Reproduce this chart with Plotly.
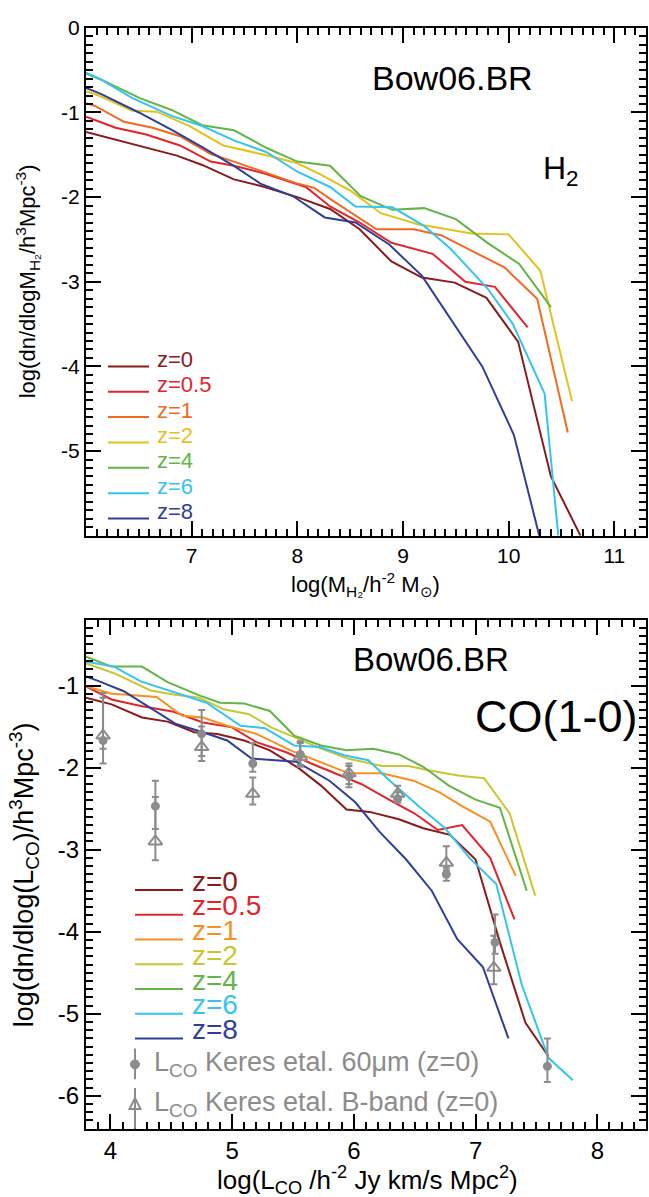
import plotly.graph_objects as go

FONT = "Liberation Sans, Arial, Helvetica, sans-serif"
W, H = 649, 1197

# ---------------- H2 mass function (top panel) ----------------
h2_z0_x = [6.0, 6.36, 6.59, 6.86, 7.10, 7.40, 7.69, 8.0, 8.31, 8.59, 8.89, 9.18, 9.49, 9.79, 10.09, 10.40, 10.68]
h2_z0_y = [-1.23, -1.35, -1.42, -1.51, -1.62, -1.79, -1.88, -2.0, -2.14, -2.38, -2.76, -2.95, -3.01, -3.19, -3.71, -5.30, -6.0]
h2_z05_x = [6.0, 6.28, 6.57, 6.89, 7.18, 7.40, 7.69, 8.08, 8.31, 8.59, 8.89, 9.28, 9.59, 9.87, 10.18]
h2_z05_y = [-1.05, -1.18, -1.26, -1.39, -1.58, -1.63, -1.72, -1.88, -2.11, -2.30, -2.54, -2.67, -3.00, -3.06, -3.54]
h2_z1_x = [6.0, 6.08, 6.36, 6.63, 6.89, 7.18, 7.40, 7.69, 8.0, 8.16, 8.32, 8.75, 9.10, 9.36, 9.96, 10.27, 10.56]
h2_z1_y = [-0.89, -0.92, -1.11, -1.18, -1.28, -1.49, -1.58, -1.71, -1.84, -1.89, -2.03, -2.38, -2.38, -2.45, -2.83, -3.20, -4.78]
h2_z2_x = [6.0, 6.12, 6.44, 6.67, 6.98, 7.30, 7.69, 8.0, 8.2, 8.51, 8.79, 9.14, 9.65, 10.0, 10.30, 10.60]
h2_z2_y = [-0.75, -0.80, -0.98, -0.99, -1.16, -1.39, -1.50, -1.60, -1.72, -1.93, -2.19, -2.32, -2.43, -2.44, -2.87, -4.41]
h2_z4_x = [6.0, 6.14, 6.51, 6.81, 7.10, 7.40, 7.71, 8.0, 8.31, 8.60, 8.90, 9.20, 9.50, 9.80, 10.10, 10.40]
h2_z4_y = [-0.54, -0.61, -0.83, -0.97, -1.15, -1.21, -1.42, -1.58, -1.63, -1.99, -2.15, -2.13, -2.26, -2.54, -2.79, -3.30]
h2_z6_x = [6.0, 6.14, 6.44, 6.81, 7.10, 7.40, 7.71, 8.0, 8.31, 8.55, 8.90, 9.20, 9.45, 9.80, 10.04, 10.34, 10.47]
h2_z6_y = [-0.53, -0.61, -0.83, -1.04, -1.16, -1.33, -1.47, -1.70, -1.88, -2.11, -2.12, -2.34, -2.61, -3.08, -3.50, -4.32, -6.0]
h2_z8_x = [6.0, 6.14, 6.50, 6.82, 7.10, 7.40, 7.65, 7.96, 8.26, 8.55, 8.87, 9.18, 9.75, 10.05, 10.29]
h2_z8_y = [-0.71, -0.78, -1.00, -1.21, -1.41, -1.63, -1.84, -1.99, -2.24, -2.30, -2.56, -2.93, -4.00, -4.81, -6.0]

# ---------------- CO(1-0) luminosity function (bottom panel) ----------------
co_z0_x = [3.80, 4.01, 4.26, 4.47, 4.69, 4.88, 5.10, 5.31, 5.55, 5.73, 5.94, 6.13, 6.37, 6.57, 6.79, 7.00, 7.20, 7.41, 7.60]
co_z0_y = [-1.15, -1.23, -1.39, -1.44, -1.57, -1.59, -1.67, -1.79, -2.01, -2.22, -2.51, -2.54, -2.63, -2.74, -2.82, -3.12, -4.13, -5.11, -5.52]
co_z05_x = [3.80, 4.01, 4.25, 4.52, 4.76, 5.0, 5.2, 5.44, 5.65, 5.85, 6.06, 6.30, 6.50, 6.69, 6.89, 7.12, 7.32]
co_z05_y = [-1.01, -1.17, -1.25, -1.32, -1.45, -1.51, -1.69, -1.81, -1.95, -2.07, -2.20, -2.40, -2.56, -2.76, -2.70, -3.10, -3.85]
co_z1_x = [3.80, 4.01, 4.11, 4.38, 4.59, 4.76, 4.96, 5.20, 5.48, 5.75, 5.96, 6.23, 6.49, 6.70, 6.90, 7.12, 7.33]
co_z1_y = [-1.01, -1.10, -1.11, -1.14, -1.37, -1.39, -1.49, -1.59, -1.79, -1.95, -2.07, -2.07, -2.16, -2.30, -2.48, -2.66, -3.32]
co_z2_x = [3.80, 4.03, 4.33, 4.52, 4.73, 4.93, 5.14, 5.32, 5.51, 5.73, 5.95, 6.23, 6.45, 6.60, 6.87, 7.07, 7.28, 7.49]
co_z2_y = [-0.73, -0.85, -1.06, -1.11, -1.15, -1.29, -1.35, -1.51, -1.63, -1.77, -1.89, -1.98, -1.98, -2.03, -2.10, -2.13, -2.56, -3.56]
co_z4_x = [3.80, 4.01, 4.26, 4.47, 4.73, 4.90, 5.10, 5.31, 5.51, 5.73, 5.94, 6.16, 6.37, 6.57, 6.78, 7.00, 7.20, 7.42]
co_z4_y = [-0.65, -0.77, -0.77, -0.96, -1.12, -1.21, -1.22, -1.31, -1.61, -1.73, -1.79, -1.77, -1.84, -1.99, -2.22, -2.39, -2.49, -3.50]
co_z6_x = [3.80, 4.03, 4.25, 4.52, 4.79, 5.07, 5.27, 5.51, 5.72, 5.92, 6.12, 6.28, 6.54, 6.75, 6.95, 7.17, 7.38, 7.60, 7.80]
co_z6_y = [-0.71, -0.77, -0.95, -1.08, -1.21, -1.49, -1.52, -1.73, -1.75, -1.85, -1.91, -2.14, -2.48, -2.74, -3.10, -3.42, -4.65, -5.54, -5.81]
co_z8_x = [3.80, 3.91, 4.11, 4.33, 4.54, 4.76, 4.96, 5.16, 5.53, 5.80, 6.01, 6.21, 6.43, 6.64, 6.85, 7.06, 7.27]
co_z8_y = [-0.89, -0.95, -1.07, -1.27, -1.47, -1.57, -1.67, -1.89, -1.93, -2.16, -2.42, -2.78, -3.12, -3.50, -4.09, -4.43, -5.30]

# Keres et al. (2003) CO luminosity function estimates, z=0
keres60_x = [3.94, 4.37, 4.75, 5.17, 5.56, 5.96, 6.36, 6.76, 7.16, 7.59]
keres60_y = [-1.67, -2.47, -1.59, -1.95, -1.84, -2.11, -2.38, -3.30, -4.13, -5.64]
keres60_hi = [-1.15, -2.16, -1.30, -1.70, -1.70, -1.98, -2.30, -3.22, -3.79, -5.30]
keres60_lo = [-1.95, -2.75, -1.86, -2.05, -1.99, -2.24, -2.43, -3.38, -4.27, -5.83]
keresB_x = [3.94, 4.37, 4.75, 5.17, 5.56, 5.96, 6.36, 6.76, 7.15]
keresB_y = [-1.61, -2.90, -1.75, -2.32, -1.87, -2.07, -2.32, -3.16, -4.44]
keresB_hi = [-1.09, -2.36, -1.50, -2.12, -1.68, -1.95, -2.22, -2.96, -4.05]
keresB_lo = [-1.77, -3.13, -1.92, -2.45, -1.97, -2.20, -2.40, -3.25, -4.64]

z_labels = ["z=0", "z=0.5", "z=1", "z=2", "z=4", "z=6", "z=8"]
top_colors = ["#8b1a1a", "#e3242b", "#f26a21", "#e5c11d", "#62b546", "#35c4f0", "#2e3f98"]
bot_colors = ["#8b1a1a", "#e3242b", "#f7901e", "#c9c62f", "#62b546", "#35c4f0", "#2e3f98"]
GRAY = "#8c8c8c"

top_series = [(h2_z0_x, h2_z0_y), (h2_z05_x, h2_z05_y), (h2_z1_x, h2_z1_y), (h2_z2_x, h2_z2_y),
              (h2_z4_x, h2_z4_y), (h2_z6_x, h2_z6_y), (h2_z8_x, h2_z8_y)]
bot_series = [(co_z0_x, co_z0_y), (co_z05_x, co_z05_y), (co_z1_x, co_z1_y), (co_z2_x, co_z2_y),
              (co_z4_x, co_z4_y), (co_z6_x, co_z6_y), (co_z8_x, co_z8_y)]

fig = go.Figure()

for (xs, ys), col, lab in zip(top_series, top_colors, z_labels):
    fig.add_trace(go.Scatter(x=xs, y=ys, mode="lines", line=dict(color=col, width=2),
                             name=lab, xaxis="x", yaxis="y", showlegend=False))

for (xs, ys), col, lab in zip(bot_series, bot_colors, z_labels):
    fig.add_trace(go.Scatter(x=xs, y=ys, mode="lines", line=dict(color=col, width=2),
                             name=lab, xaxis="x2", yaxis="y2", showlegend=False))


def err(y, hi, lo):
    return dict(type="data", symmetric=False,
                array=[h - v for v, h in zip(y, hi)],
                arrayminus=[v - l for v, l in zip(y, lo)],
                color=GRAY, thickness=2, width=3.5)


fig.add_trace(go.Scatter(x=keresB_x, y=keresB_y, mode="markers", xaxis="x2", yaxis="y2",
                         marker=dict(symbol="triangle-up-open", size=12, color=GRAY, line=dict(width=2, color=GRAY)),
                         error_y=err(keresB_y, keresB_hi, keresB_lo), showlegend=False))
fig.add_trace(go.Scatter(x=keres60_x, y=keres60_y, mode="markers", xaxis="x2", yaxis="y2",
                         marker=dict(symbol="circle", size=9, color=GRAY),
                         error_y=err(keres60_y, keres60_hi, keres60_lo), showlegend=False))


def px(xp):
    return xp / W


def py(yp):
    return 1 - yp / H


def axis(domain, rng, anchor, tickvals, size):
    return dict(domain=domain, range=rng, anchor=anchor, showline=True, linecolor="black", linewidth=2,
                mirror="allticks", ticks="inside", ticklen=15, tickwidth=1.5, tickcolor="black",
                tickvals=tickvals, ticktext=[("%g" % v) for v in tickvals],
                tickfont=dict(family=FONT, size=size, color="black"),
                showgrid=False, zeroline=False,
                minor=dict(ticks="inside", ticklen=7, tickwidth=1.5, tickcolor="black", dtick=0.1,
                           tick0=0, showgrid=False))


xdom = [px(86), px(646)]
layout = dict(
    width=W, height=H, margin=dict(l=0, r=0, t=0, b=0),
    paper_bgcolor="white", plot_bgcolor="white", showlegend=False,
    xaxis=axis(xdom, [6, 11.3], "y", [7, 8, 9, 10, 11], 21),
    yaxis=axis([py(529), py(16)], [-6, 0], "x", [-5, -4, -3, -2, -1, 0], 21),
    xaxis2=axis(xdom, [3.8, 8.4], "y2", [4, 5, 6, 7, 8], 24),
    yaxis2=axis([py(1128), py(614)], [-6.4, -0.2], "x2", [-6, -5, -4, -3, -2, -1], 24),
)
fig.update_layout(**layout)

ann = []
shapes = []


def text(x, y, s, size, color="black", xanchor="center", yanchor="middle", angle=0):
    ann.append(dict(x=px(x), y=py(y), xref="paper", yref="paper", text=s, showarrow=False,
                    font=dict(family=FONT, size=size, color=color), xanchor=xanchor, yanchor=yanchor,
                    textangle=angle))


# panel labels
text(452, 67, "Bow06.BR", 34)
text(541, 160, "H<sub>2</sub>", 32, xanchor="left")
text(431, 654, "Bow06.BR", 33)
text(556, 712, "CO(1-0)", 45)

# axis titles
text(366, 578, "log(M<sub>H₂</sub>/h<sup>-2</sup> M<sub>⊙</sub>)", 22)
text(27, 272, "log(dn/dlogM<sub>H₂</sub>/h<sup>3</sup>Mpc<sup>-3</sup>)", 22, angle=-90)
text(367, 1180, "log(L<sub>CO</sub> /h<sup>-2</sup> Jy km/s Mpc<sup>2</sup>)", 26)
text(24, 872, "log(dn/dlog(L<sub>CO</sub>)/h<sup>3</sup>Mpc<sup>-3</sup>)", 27, angle=-90)

# legend keys, top panel
for i, (lab, col) in enumerate(zip(z_labels, top_colors)):
    yl = 358 + i * 25.6
    shapes.append(dict(type="line", xref="paper", yref="paper", x0=px(108), x1=px(149),
                       y0=py(yl), y1=py(yl), line=dict(color=col, width=2)))
    text(155, yl - 7, lab, 22, color=col, xanchor="left")

# legend keys, bottom panel
for i, (lab, col) in enumerate(zip(z_labels, bot_colors)):
    yl = 887 + i * 25
    shapes.append(dict(type="line", xref="paper", yref="paper", x0=px(135), x1=px(183),
                       y0=py(yl), y1=py(yl), line=dict(color=col, width=2)))
    text(190, yl - 9, lab, 28, color=col, xanchor="left")

# observational legend entries
shapes.append(dict(type="line", xref="paper", yref="paper", x0=px(135), x1=px(135),
                   y0=py(1047), y1=py(1078), line=dict(color=GRAY, width=2)))
shapes.append(dict(type="circle", xref="paper", yref="paper", x0=px(130.5), x1=px(139.5),
                   y0=py(1067.5), y1=py(1058.5), line=dict(color=GRAY, width=1), fillcolor=GRAY))
text(152, 1063, "L<sub>CO</sub> Keres etal. 60μm (z=0)", 27, color=GRAY, xanchor="left")
shapes.append(dict(type="line", xref="paper", yref="paper", x0=px(135), x1=px(135),
                   y0=py(1087), y1=py(1128), line=dict(color=GRAY, width=2)))
shapes.append(dict(type="path", xref="paper", yref="paper",
                   path="M %f %f L %f %f L %f %f Z" % (px(129.5), py(1108), px(140.5), py(1108), px(135), py(1097)),
                   line=dict(color=GRAY, width=2), fillcolor="rgba(0,0,0,0)"))
text(152, 1103, "L<sub>CO</sub> Keres etal. B-band (z=0)", 27, color=GRAY, xanchor="left")

fig.update_layout(annotations=ann, shapes=shapes)
fig.write_html("out.html")
